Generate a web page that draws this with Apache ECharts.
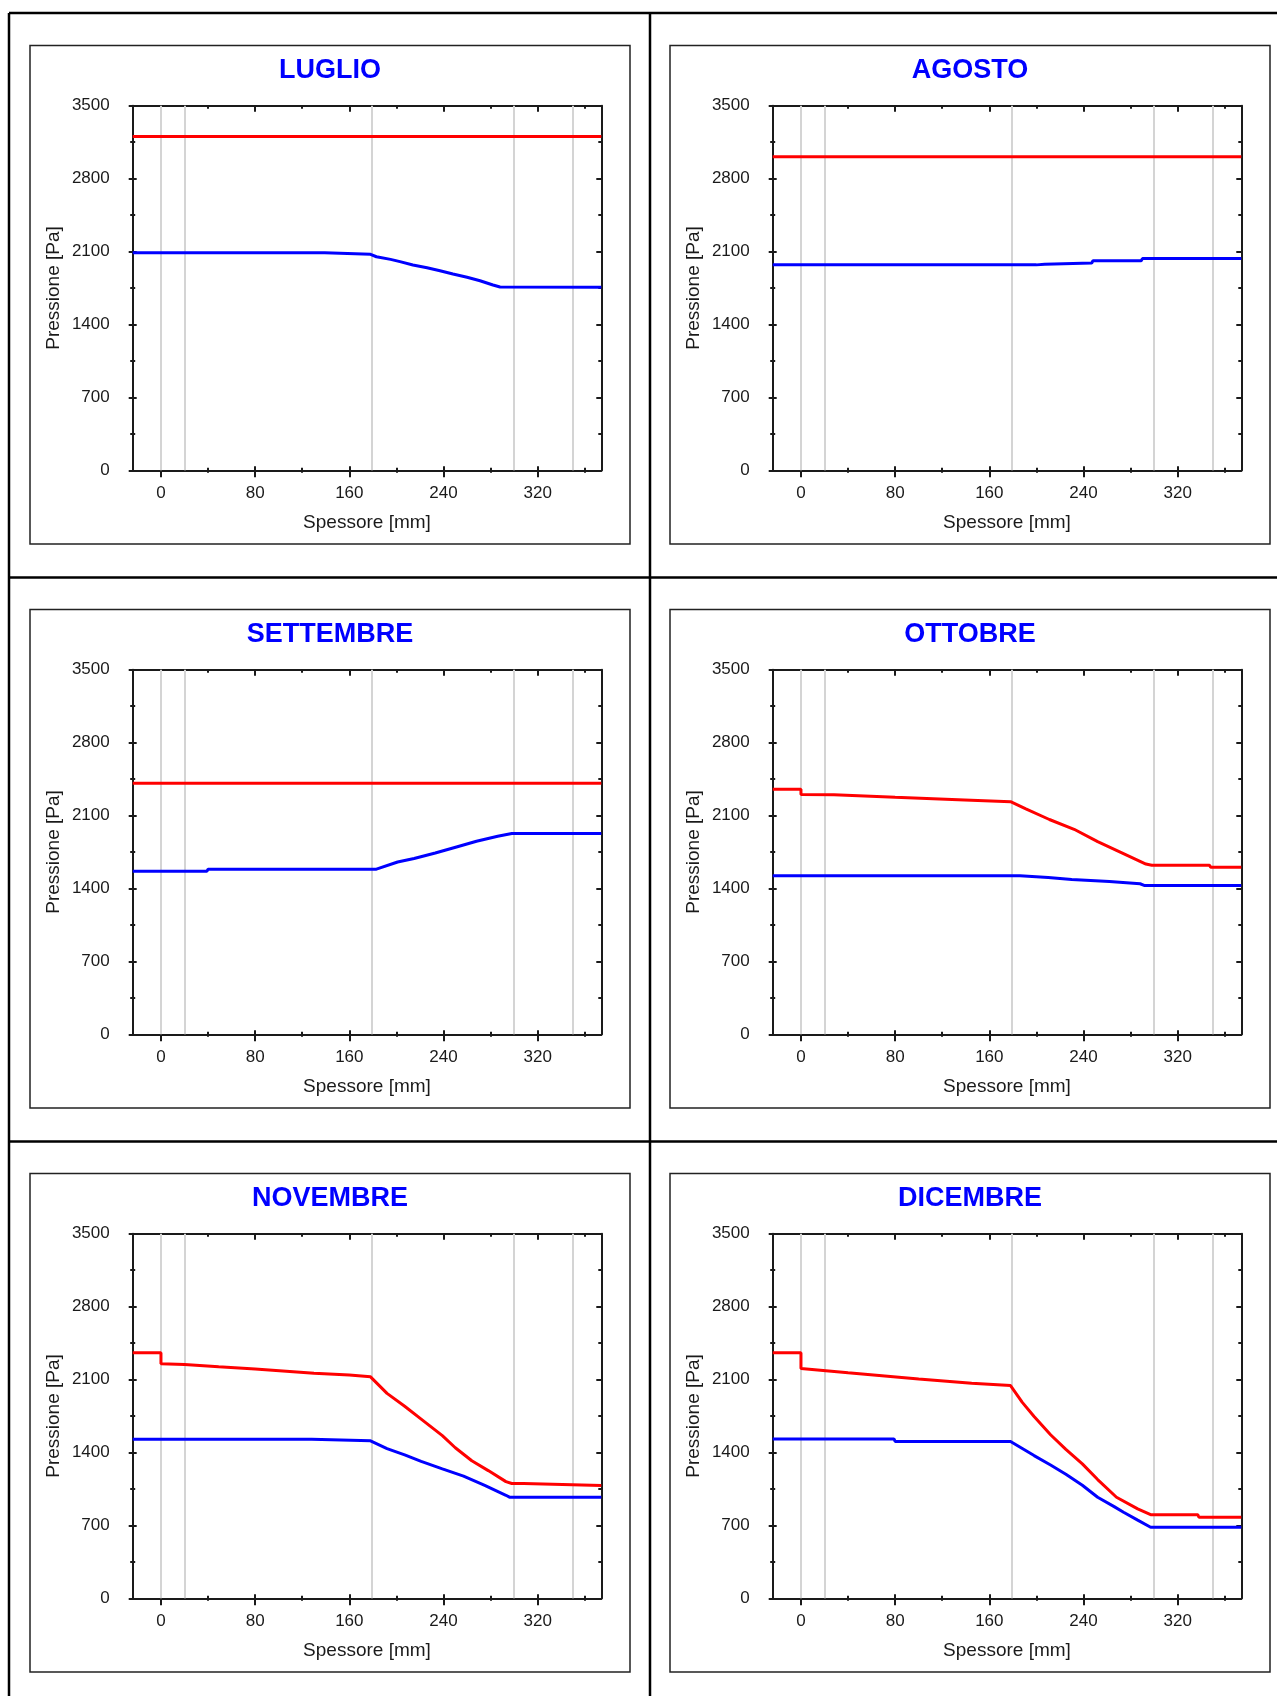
<!DOCTYPE html>
<html>
<head>
<meta charset="utf-8">
<title>Pressione - Spessore</title>
<script src="https://cdn.jsdelivr.net/npm/echarts@6.0.0/dist/echarts.min.js"></script>
<style>
    html, body { margin: 0; padding: 0; background: #fff; }
    #chart { width: 1277px; height: 1696px; }
</style>
</head>
<body>
<div id="chart"></div>
<script>
// mesi e assi
var months = ['LUGLIO', 'AGOSTO', 'SETTEMBRE', 'OTTOBRE', 'NOVEMBRE', 'DICEMBRE'];
var xTicks = [0, 80, 160, 240, 320];
var xMinorTicks = [40, 120, 200, 280, 360];
var yTicks = [0, 700, 1400, 2100, 2800, 3500];
var yMinorTicks = [350, 1050, 1750, 2450, 3150];
var layerBounds = [0, 20, 179, 300, 350];
var xMin = -24, xMax = 374;

// pressione di saturazione (rosso) e pressione del vapore (blu), [spessore mm, Pa]
var satLuglio = [[-24, 3205], [374, 3205]];
var vapLuglio = [[-24, 2088], [139, 2088], [140, 2074], [178, 2073], [183, 2050], [195, 2025], [203, 2003], [214, 1971], [226, 1945], [237, 1916], [248, 1884], [260, 1853], [271, 1820], [282, 1779], [288, 1760], [374, 1758]];

var satAgosto = [[-24, 3010], [374, 3010]];
var vapAgosto = [[-24, 1972], [200, 1972], [201, 1979], [207, 1979], [208, 1990], [247, 1990], [248, 2011], [289, 2011], [290, 2032], [374, 2032]];

var satSettembre = [[-24, 2409], [374, 2409]];
var vapSettembre = [[-24, 1565], [39, 1565], [40, 1585], [183, 1585], [201, 1654], [215, 1688], [233, 1740], [251, 1798], [268, 1853], [286, 1901], [298, 1928], [374, 1928]];

var satOttobre = [[-24, 2353], [0, 2353], [0, 2303], [28, 2300], [80, 2275], [139, 2250], [178, 2233], [191, 2164], [211, 2062], [232, 1968], [252, 1850], [273, 1740], [293, 1634], [298, 1623], [347, 1623], [348, 1603], [374, 1603]];
var vapOttobre = [[-24, 1521], [186, 1521], [210, 1505], [230, 1486], [262, 1466], [288, 1445], [292, 1428], [374, 1428]];

var satNovembre = [[-24, 2356], [0, 2356], [0, 2252], [20, 2245], [49, 2222], [80, 2202], [130, 2160], [160, 2143], [178, 2126], [192, 1967], [207, 1844], [221, 1720], [239, 1561], [250, 1445], [264, 1320], [278, 1226], [293, 1120], [298, 1102], [308, 1102], [309, 1084], [374, 1084]];
var vapNovembre = [[-24, 1526], [128, 1526], [129, 1512], [178, 1512], [192, 1437], [207, 1377], [221, 1314], [239, 1243], [257, 1173], [275, 1084], [293, 989], [296, 971], [374, 971]];

var satDicembre = [[-24, 2358], [0, 2358], [0, 2205], [40, 2165], [100, 2106], [145, 2065], [178, 2042], [188, 1881], [198, 1745], [212, 1570], [225, 1430], [239, 1290], [252, 1140], [268, 970], [286, 858], [297, 803], [337, 803], [338, 778], [374, 778]];
var vapDicembre = [[-24, 1530], [79, 1530], [80, 1506], [178, 1506], [188, 1438], [198, 1370], [212, 1280], [225, 1190], [239, 1085], [252, 970], [266, 880], [274, 826], [286, 750], [297, 682], [374, 682]];

var satSeries = [satLuglio, satAgosto, satSettembre, satOttobre, satNovembre, satDicembre];
var vapSeries = [vapLuglio, vapAgosto, vapSettembre, vapOttobre, vapNovembre, vapDicembre];

var FONT = 'Liberation Sans';
var INK = '#1a1a1a';

var myChart = echarts.init(document.getElementById('chart'), null, {renderer: 'canvas'});

function plainNumber(v) {
    return String(v);
}

function baseAxis(gi, pos, isX) {
    return {
        gridIndex: gi,
        type: 'value',
        position: pos,
        min: isX ? xMin : 0,
        max: isX ? xMax : 3500,
        axisLine: {show: false, onZero: false},
        axisTick: {show: false},
        axisLabel: {show: false},
        splitLine: {show: false}
    };
}

// asse con sole tacche (offset negativo = tacche che attraversano l'asse)
function tickAxis(gi, pos, isX, values, len, offset, inside, withLine) {
    var a = baseAxis(gi, pos, isX);
    a.offset = offset;
    a.axisTick = {show: true, inside: inside, length: len, customValues: values, lineStyle: {color: INK, width: 2}};
    if (withLine) {
        a.axisLine = {show: true, onZero: false, lineStyle: {color: INK, width: 2}};
    }
    return a;
}

var grids = [], titles = [], xAxes = [], yAxes = [], series = [], graphics = [];

// bordi della tabella
var tableLines = [
    [9, 13, 1277, 13],
    [9, 13, 9, 1696],
    [650, 13, 650, 1696],
    [9, 577.5, 1277, 577.5],
    [9, 1141.5, 1277, 1141.5]
];
tableLines.forEach(function (l) {
    graphics.push({
        type: 'line', silent: true,
        shape: {x1: l[0], y1: l[1], x2: l[2], y2: l[3]},
        style: {stroke: '#000', lineWidth: 2.5}
    });
});

months.forEach(function (m, gi) {
    var col = gi % 2, row = Math.floor(gi / 2);
    var bx = 30 + col * 640, by = 45.5 + row * 564;

    graphics.push({
        type: 'rect', silent: true,
        shape: {x: bx, y: by, width: 600, height: 498.5},
        style: {fill: 'none', stroke: '#222', lineWidth: 1.5}
    });

    titles.push({
        text: m,
        left: bx + 300,
        top: by + 11.5,
        textAlign: 'center',
        padding: 0,
        textStyle: {color: '#0000ff', fontSize: 27, fontWeight: 'bold', fontFamily: FONT}
    });

    grids.push({
        left: bx + 102.7,
        top: by + 60.2,
        width: 468.6,
        height: 364.6,
        containLabel: false,
        outerBoundsMode: 'none'
    });

    // asse x principale
    var xi = xAxes.length;
    var xm = baseAxis(gi, 'bottom', true);
    xm.axisLine = {show: true, onZero: false, lineStyle: {color: INK, width: 2}};
    xm.axisLabel = {show: true, customValues: xTicks, margin: 15, color: INK, fontSize: 17, fontFamily: FONT, formatter: plainNumber};
    xm.name = 'Spessore [mm]';
    xm.nameLocation = 'middle';
    xm.nameGap = 43;
    xm.nameTextStyle = {color: INK, fontSize: 19, fontFamily: FONT};
    xAxes.push(xm);
    xAxes.push(tickAxis(gi, 'bottom', true, xTicks, 11, -4, false, false));
    xAxes.push(tickAxis(gi, 'bottom', true, xMinorTicks, 5, -2.5, false, false));
    xAxes.push(tickAxis(gi, 'top', true, xTicks, 6, 0, true, true));
    xAxes.push(tickAxis(gi, 'top', true, xMinorTicks, 3, 0, true, false));

    // asse y principale
    var yi = yAxes.length;
    var ym = baseAxis(gi, 'left', false);
    ym.axisLine = {show: true, onZero: false, lineStyle: {color: INK, width: 2}};
    ym.axisLabel = {show: true, customValues: yTicks, margin: 23, color: INK, fontSize: 17, fontFamily: FONT, formatter: plainNumber};
    ym.name = 'Pressione [Pa]';
    ym.nameLocation = 'middle';
    ym.nameRotate = 90;
    ym.nameGap = 69;
    ym.nameTextStyle = {color: INK, fontSize: 19, fontFamily: FONT};
    yAxes.push(ym);
    yAxes.push(tickAxis(gi, 'left', false, yTicks, 8, -4, false, false));
    yAxes.push(tickAxis(gi, 'left', false, yMinorTicks, 5, -2.5, false, false));
    yAxes.push(tickAxis(gi, 'right', false, yTicks, 5, 0, true, true));
    yAxes.push(tickAxis(gi, 'right', false, yMinorTicks, 3, 0, true, false));

    series.push({
        type: 'line',
        xAxisIndex: xi,
        yAxisIndex: yi,
        data: vapSeries[gi],
        symbol: 'none',
        lineStyle: {color: '#0000ff', width: 3},
        z: 3,
        markLine: {
            silent: true,
            symbol: 'none',
            z: 1,
            label: {show: false},
            lineStyle: {color: '#d4d4d4', width: 2, type: 'solid'},
            emphasis: {disabled: true},
            data: layerBounds.map(function (v) { return {xAxis: v}; })
        }
    });
    series.push({
        type: 'line',
        xAxisIndex: xi,
        yAxisIndex: yi,
        data: satSeries[gi],
        symbol: 'none',
        lineStyle: {color: '#ff0000', width: 3},
        z: 3
    });
});

var option = {
    backgroundColor: '#ffffff',
    animation: false,
    title: titles,
    grid: grids,
    xAxis: xAxes,
    yAxis: yAxes,
    series: series,
    graphic: graphics
};

myChart.setOption(option);
</script>
</body>
</html>
